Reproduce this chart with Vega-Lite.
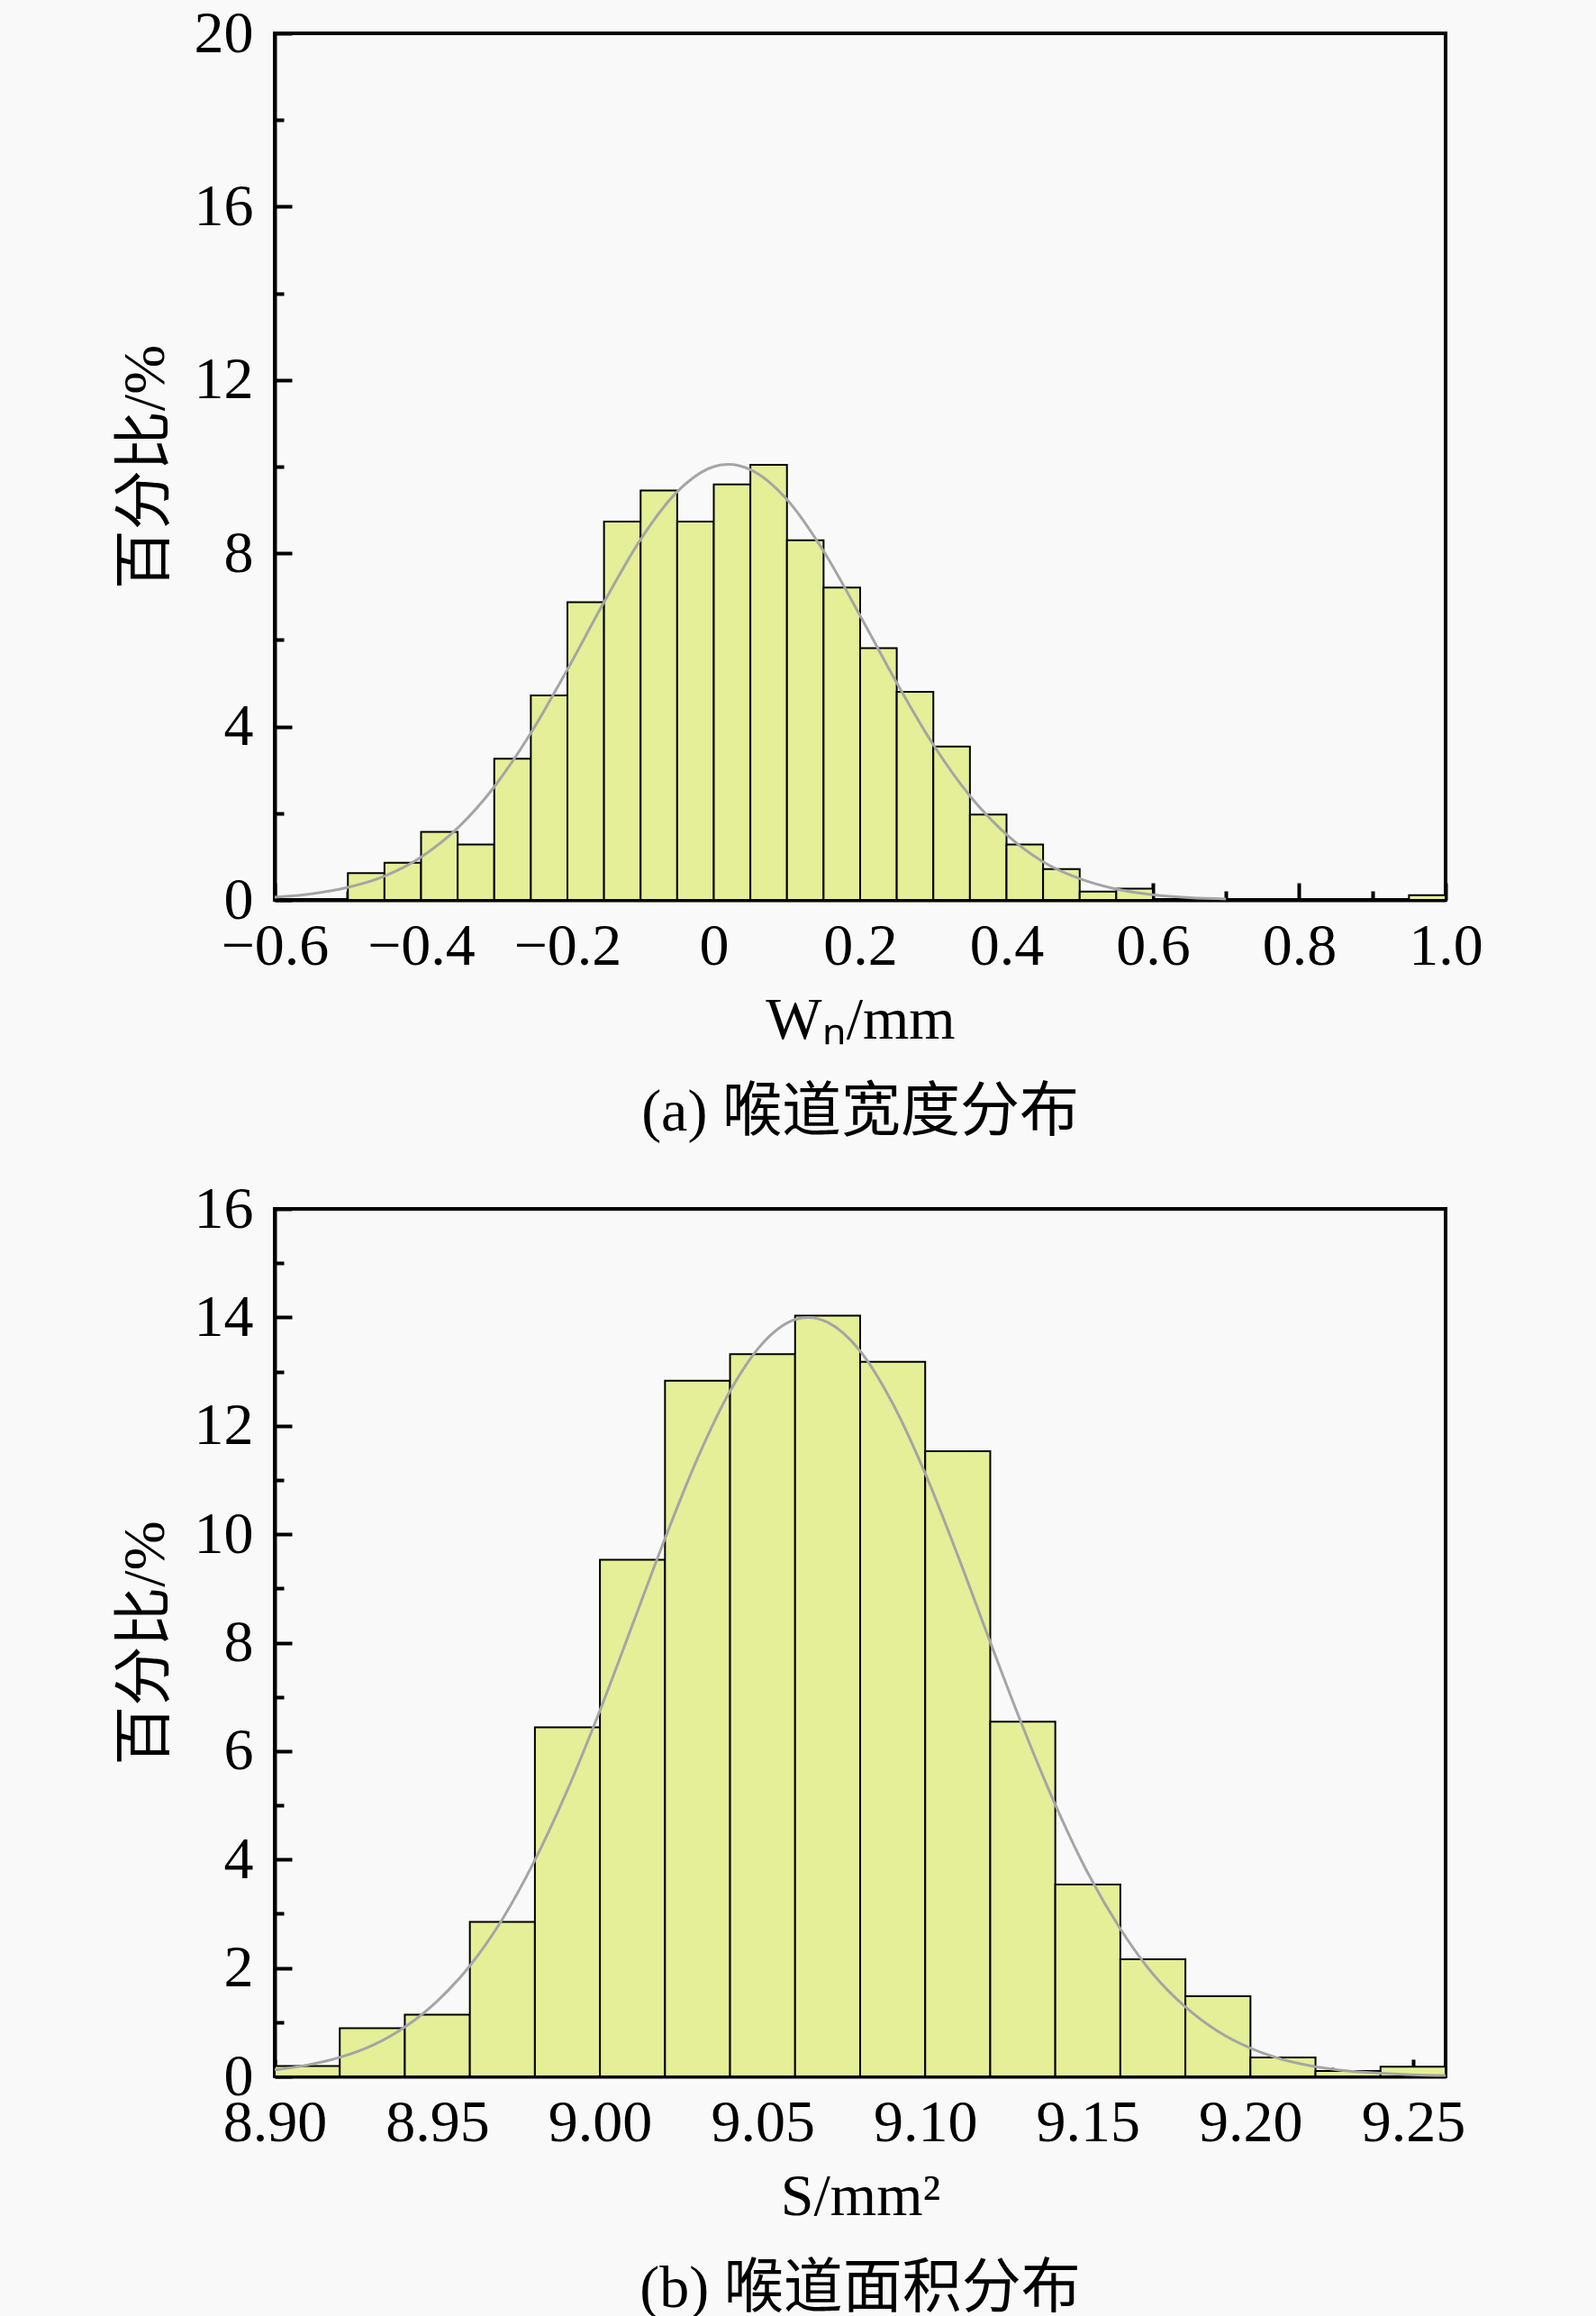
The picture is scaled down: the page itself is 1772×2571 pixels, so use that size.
{
  "$schema": "https://vega.github.io/schema/vega-lite/v6.json",
  "background": "#f9f9f9",
  "padding": {"left": 126, "top": 2, "right": 128, "bottom": 5},
  "spacing": 37,
  "config": {
    "font": "Liberation Serif, Noto Sans CJK SC",
    "view": {"stroke": "black", "strokeWidth": 4, "fill": "#f9f9f9"},
    "axis": {
      "domainColor": "black", "domainWidth": 4,
      "tickColor": "black", "tickWidth": 4,
      "labelFont": "Liberation Serif", "labelFontSize": 66, "labelColor": "black",
      "titleFont": "Liberation Serif, Noto Sans CJK SC", "titleFontSize": 66, "titleFontWeight": "normal", "titleColor": "black",
      "grid": false, "labelOverlap": false, "labelFlush": false
    },
    "title": {"font": "Liberation Serif, Noto Sans CJK SC", "fontSize": 66, "fontWeight": "normal", "color": "black"}
  },
  "datasets": {
    "barsA": [
      {"bin0": -0.50, "bin1": -0.45, "pct": 0.62},
      {"bin0": -0.45, "bin1": -0.40, "pct": 0.86},
      {"bin0": -0.40, "bin1": -0.35, "pct": 1.57},
      {"bin0": -0.35, "bin1": -0.30, "pct": 1.28},
      {"bin0": -0.30, "bin1": -0.25, "pct": 3.26},
      {"bin0": -0.25, "bin1": -0.20, "pct": 4.72},
      {"bin0": -0.20, "bin1": -0.15, "pct": 6.87},
      {"bin0": -0.15, "bin1": -0.10, "pct": 8.73},
      {"bin0": -0.10, "bin1": -0.05, "pct": 9.45},
      {"bin0": -0.05, "bin1": 0.00, "pct": 8.73},
      {"bin0": 0.00, "bin1": 0.05, "pct": 9.59},
      {"bin0": 0.05, "bin1": 0.10, "pct": 10.04},
      {"bin0": 0.10, "bin1": 0.15, "pct": 8.30},
      {"bin0": 0.15, "bin1": 0.20, "pct": 7.21},
      {"bin0": 0.20, "bin1": 0.25, "pct": 5.81},
      {"bin0": 0.25, "bin1": 0.30, "pct": 4.80},
      {"bin0": 0.30, "bin1": 0.35, "pct": 3.54},
      {"bin0": 0.35, "bin1": 0.40, "pct": 1.97},
      {"bin0": 0.40, "bin1": 0.45, "pct": 1.28},
      {"bin0": 0.45, "bin1": 0.50, "pct": 0.71},
      {"bin0": 0.50, "bin1": 0.55, "pct": 0.19},
      {"bin0": 0.55, "bin1": 0.60, "pct": 0.26},
      {"bin0": 0.95, "bin1": 1.00, "pct": 0.11}
    ],
    "curveA": [
      {"x": -0.60, "y": 0.06}, {"x": -0.55, "y": 0.14}, {"x": -0.50, "y": 0.29}, {"x": -0.45, "y": 0.55},
      {"x": -0.40, "y": 0.99}, {"x": -0.35, "y": 1.66}, {"x": -0.30, "y": 2.61}, {"x": -0.25, "y": 3.85},
      {"x": -0.20, "y": 5.32}, {"x": -0.15, "y": 6.87}, {"x": -0.10, "y": 8.32}, {"x": -0.05, "y": 9.42},
      {"x": 0.00, "y": 10.0}, {"x": 0.02, "y": 10.05}, {"x": 0.05, "y": 9.93}, {"x": 0.10, "y": 9.24},
      {"x": 0.15, "y": 8.05}, {"x": 0.20, "y": 6.56}, {"x": 0.25, "y": 5.01}, {"x": 0.30, "y": 3.58},
      {"x": 0.35, "y": 2.40}, {"x": 0.40, "y": 1.51}, {"x": 0.45, "y": 0.88}, {"x": 0.50, "y": 0.49},
      {"x": 0.55, "y": 0.25}, {"x": 0.60, "y": 0.12}, {"x": 0.65, "y": 0.05}, {"x": 0.70, "y": 0.02}
    ],
    "barsB": [
      {"bin0": 8.90, "bin1": 8.92, "pct": 0.19},
      {"bin0": 8.92, "bin1": 8.94, "pct": 0.89},
      {"bin0": 8.94, "bin1": 8.96, "pct": 1.14},
      {"bin0": 8.96, "bin1": 8.98, "pct": 2.85},
      {"bin0": 8.98, "bin1": 9.00, "pct": 6.44},
      {"bin0": 9.00, "bin1": 9.02, "pct": 9.53},
      {"bin0": 9.02, "bin1": 9.04, "pct": 12.83},
      {"bin0": 9.04, "bin1": 9.06, "pct": 13.32},
      {"bin0": 9.06, "bin1": 9.08, "pct": 14.03},
      {"bin0": 9.08, "bin1": 9.10, "pct": 13.18},
      {"bin0": 9.10, "bin1": 9.12, "pct": 11.53},
      {"bin0": 9.12, "bin1": 9.14, "pct": 6.54},
      {"bin0": 9.14, "bin1": 9.16, "pct": 3.54},
      {"bin0": 9.16, "bin1": 9.18, "pct": 2.16},
      {"bin0": 9.18, "bin1": 9.20, "pct": 1.48},
      {"bin0": 9.20, "bin1": 9.22, "pct": 0.35},
      {"bin0": 9.22, "bin1": 9.24, "pct": 0.10},
      {"bin0": 9.24, "bin1": 9.26, "pct": 0.18}
    ],
    "curveB": [
      {"x": 8.90, "y": 0.12}, {"x": 8.91, "y": 0.21}, {"x": 8.92, "y": 0.35}, {"x": 8.93, "y": 0.57},
      {"x": 8.94, "y": 0.91}, {"x": 8.95, "y": 1.39}, {"x": 8.96, "y": 2.04}, {"x": 8.97, "y": 2.90},
      {"x": 8.98, "y": 3.99}, {"x": 8.99, "y": 5.28}, {"x": 9.00, "y": 6.75}, {"x": 9.01, "y": 8.33},
      {"x": 9.02, "y": 9.92}, {"x": 9.03, "y": 11.40}, {"x": 9.04, "y": 12.64}, {"x": 9.05, "y": 13.52},
      {"x": 9.06, "y": 13.96}, {"x": 9.064, "y": 14.0}, {"x": 9.07, "y": 13.91}, {"x": 9.08, "y": 13.38},
      {"x": 9.09, "y": 12.41}, {"x": 9.10, "y": 11.12}, {"x": 9.11, "y": 9.61}, {"x": 9.12, "y": 8.01},
      {"x": 9.13, "y": 6.45}, {"x": 9.14, "y": 5.01}, {"x": 9.15, "y": 3.75}, {"x": 9.16, "y": 2.72},
      {"x": 9.17, "y": 1.89}, {"x": 9.18, "y": 1.28}, {"x": 9.19, "y": 0.83}, {"x": 9.20, "y": 0.52},
      {"x": 9.21, "y": 0.31}, {"x": 9.22, "y": 0.18}, {"x": 9.23, "y": 0.10}, {"x": 9.24, "y": 0.06},
      {"x": 9.25, "y": 0.03}, {"x": 9.26, "y": 0.015}
    ]
  },
  "vconcat": [
    {
      "width": 1300, "height": 962,
      "title": {"text": "(a) 喉道宽度分布", "orient": "bottom", "anchor": "middle", "offset": 38},
      "layer": [
        {
          "data": {"name": "barsA"},
          "mark": {"type": "bar", "fill": "#e4ef97", "stroke": "black", "strokeWidth": 2},
          "encoding": {
            "x": {"field": "bin0", "type": "quantitative",
                  "scale": {"domain": [-0.6, 1.0], "nice": false, "zero": false},
                  "axis": {
                    "title": "Wₙ/mm", "titlePadding": 8,
                    "values": [-0.6, -0.5, -0.4, -0.3, -0.2, -0.1, 0, 0.1, 0.2, 0.3, 0.4, 0.5, 0.6, 0.7, 0.8, 0.9, 1.0],
                    "labelExpr": "abs(round(datum.value*10)) % 2 == 0 ? (abs(datum.value) < 1e-9 ? '0' : format(datum.value, '.1f')) : ''",
                    "tickSize": {"condition": {"test": "abs(round(datum.value*10)) % 2 == 0", "value": -19}, "value": -10},
                    "labelPadding": 38
                  }},
            "x2": {"field": "bin1"},
            "y": {"field": "pct", "type": "quantitative",
                  "scale": {"domain": [0, 20], "nice": false},
                  "axis": {
                    "title": "百分比/%", "titlePadding": 20,
                    "values": [0, 2, 4, 6, 8, 10, 12, 14, 16, 18, 20],
                    "labelExpr": "datum.value % 4 == 0 ? format(datum.value, 'd') : ''",
                    "tickSize": {"condition": {"test": "datum.value % 4 == 0", "value": -19}, "value": -10},
                    "labelPadding": 43
                  }},
            "y2": {"datum": 0}
          }
        },
        {
          "data": {"name": "curveA"},
          "mark": {"type": "line", "color": "#a5a5a5", "strokeWidth": 3, "interpolate": "monotone"},
          "encoding": {
            "x": {"field": "x", "type": "quantitative"},
            "y": {"field": "y", "type": "quantitative"}
          }
        }
      ]
    },
    {
      "width": 1300, "height": 963,
      "title": {"text": "(b) 喉道面积分布", "orient": "bottom", "anchor": "middle", "offset": 38},
      "layer": [
        {
          "data": {"name": "barsB"},
          "mark": {"type": "bar", "fill": "#e4ef97", "stroke": "black", "strokeWidth": 2},
          "encoding": {
            "x": {"field": "bin0", "type": "quantitative",
                  "scale": {"domain": [8.90, 9.26], "nice": false, "zero": false},
                  "axis": {
                    "title": "S/mm²", "titlePadding": 8,
                    "values": [8.9, 8.925, 8.95, 8.975, 9.0, 9.025, 9.05, 9.075, 9.1, 9.125, 9.15, 9.175, 9.2, 9.225, 9.25],
                    "labelExpr": "round(datum.value*1000) % 50 == 0 ? format(datum.value, '.2f') : ''",
                    "tickSize": {"condition": {"test": "round(datum.value*1000) % 50 == 0", "value": -19}, "value": -10},
                    "labelPadding": 38
                  }},
            "x2": {"field": "bin1"},
            "y": {"field": "pct", "type": "quantitative",
                  "scale": {"domain": [0, 16], "nice": false},
                  "axis": {
                    "title": "百分比/%", "titlePadding": 20,
                    "values": [0, 1, 2, 3, 4, 5, 6, 7, 8, 9, 10, 11, 12, 13, 14, 15, 16],
                    "labelExpr": "datum.value % 2 == 0 ? format(datum.value, 'd') : ''",
                    "tickSize": {"condition": {"test": "datum.value % 2 == 0", "value": -19}, "value": -10},
                    "labelPadding": 43
                  }},
            "y2": {"datum": 0}
          }
        },
        {
          "data": {"name": "curveB"},
          "mark": {"type": "line", "color": "#a5a5a5", "strokeWidth": 3, "interpolate": "monotone"},
          "encoding": {
            "x": {"field": "x", "type": "quantitative"},
            "y": {"field": "y", "type": "quantitative"}
          }
        }
      ]
    }
  ]
}
